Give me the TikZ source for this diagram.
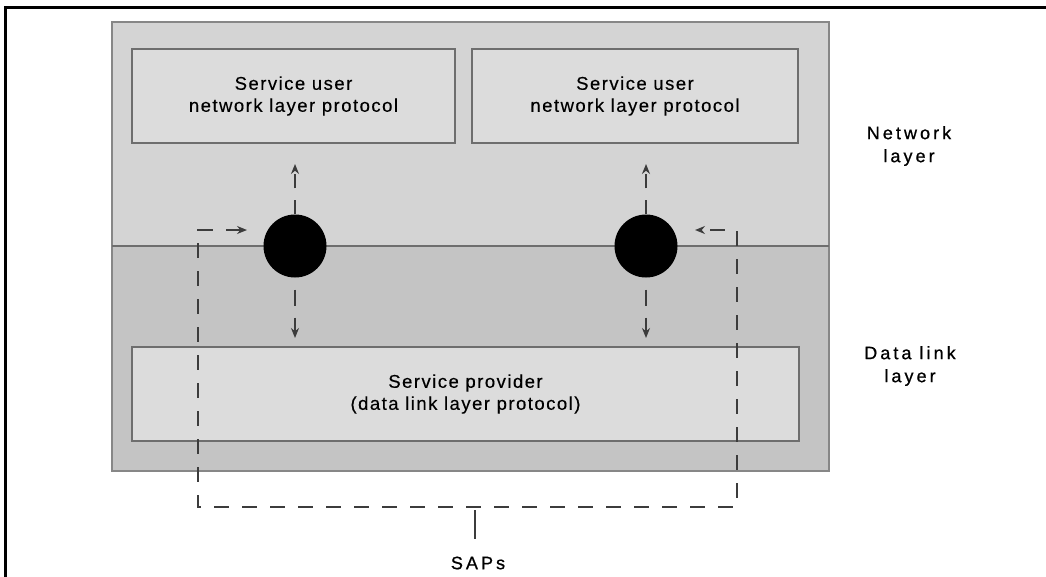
\documentclass[tikz,border=0pt]{standalone}
\usepackage{fontspec}
\setmainfont{Liberation Sans}
\newfontfamily\boxfont[LetterSpace=8,FakeBold=0.3]{Liberation Sans}
\newfontfamily\sidefont[LetterSpace=17,FakeBold=0.8]{Liberation Sans}
\usetikzlibrary{arrows.meta,calc}
\definecolor{netgray}{RGB}{212,212,212}
\definecolor{dlgray}{RGB}{196,196,196}
\definecolor{boxgray}{RGB}{220,220,220}
\definecolor{edgegray}{RGB}{110,110,110}
\definecolor{outergray}{RGB}{135,135,135}
\definecolor{dashgray}{RGB}{60,60,60}
\begin{document}
\begin{tikzpicture}[x=1pt,y=-1pt,
  protobox/.style={draw=edgegray,fill=boxgray,line width=1.5pt,align=center,
    font=\boxfont\fontsize{18.5}{22}\selectfont,inner sep=0pt},
  sapdot/.style={circle,fill=black,minimum size=63pt,inner sep=0pt},
  sidelabel/.style={align=center,font=\sidefont\fontsize{18}{23}\selectfont,inner sep=0pt},
  dashline/.style={draw=dashgray,line width=1.5pt,dash pattern=on 15pt off 13pt},
  tip/.style={-{Stealth[length=10pt,width=8pt]}}
]
\useasboundingbox (0,0) rectangle (1046,576);
\fill[white] (0,0) rectangle (1046,576);
\draw[line width=3pt] (5,578) -- (5,7) -- (1048,7);

% layers
\fill[netgray] (112,22) rectangle (829,246);
\fill[dlgray] (112,246) rectangle (829,471);
\draw[outergray,line width=2pt] (112,22) rectangle (829,471);
\draw[edgegray,line width=1.5pt] (112,246) -- (829,246);

% boxes
\node[protobox,minimum width=323pt,minimum height=94pt] (userL) at (293.5,96) {Service user\\network layer protocol};
\node[protobox,minimum width=326pt,minimum height=94pt] (userR) at (635,96) {Service user\\network layer protocol};
\node[protobox,minimum width=667pt,minimum height=94pt] (prov) at (465.5,394) {Service provider\\(data link layer protocol)};

% SAP dots
\node[sapdot] (sapL) at (295,246) {};
\node[sapdot] (sapR) at (646,246) {};

% vertical arrows
\coordinate (upL) at (295,164);
\coordinate (dnL) at (295,338);
\coordinate (upR) at (646,164);
\coordinate (dnR) at (646,338);
\draw[dashline,tip,dash pattern=on 14pt off 12pt] (sapL.north) -- (upL);
\draw[dashline,tip,dash pattern=on 14pt off 12pt] (sapR.north) -- (upR);
\draw[dashline,tip,dash pattern=on 16pt off 12pt,dash phase=16pt] (sapL.south) -- (dnL);
\draw[dashline,tip,dash pattern=on 16pt off 12pt,dash phase=16pt] (sapR.south) -- (dnR);

% SAP loop
\coordinate (aL) at (247,230);
\coordinate (cTL) at (198,230);
\coordinate (cBL) at (198,507);
\coordinate (cBR) at (737,507);
\coordinate (cTR) at (737,230);
\coordinate (aR) at (695,230);
\draw[dashline,{Stealth[length=10pt,width=8pt]}-{Stealth[length=10pt,width=8pt]}]
  (aL) -- (cTL) -- (cBL) -- (cBR) -- (cTR) -- (aR);

% SAPs label
\node[sidelabel] (saps) at (478,563) {SAPs};
\coordinate (sapTick) at (475,510);
\draw[dashgray,line width=1.2pt] (sapTick) -- (475,539);

% layer labels
\node[sidelabel] (netlab) at (909,146) {Network\\layer};
\node[sidelabel] (dllab) at (910,366) {Data link\\layer};
\end{tikzpicture}
\end{document}
